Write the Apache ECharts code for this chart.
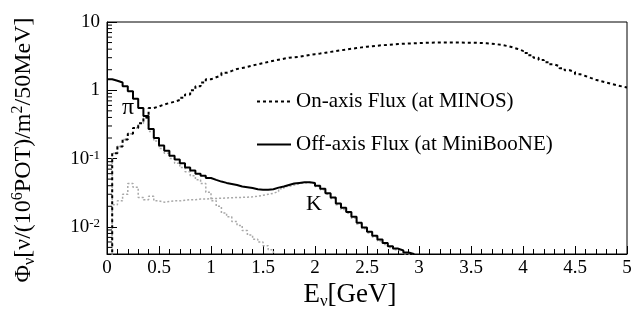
<!DOCTYPE html>
<html>
<head>
<meta charset="utf-8">
<script src="https://cdn.jsdelivr.net/npm/echarts@6/dist/echarts.min.js"></script>
<style>
html, body {margin: 0; padding: 0; background: #fff;}
#chart {width: 639px; height: 314px;}
</style>
</head>
<body>
<div id="chart"></div>
<script>
// 50 MeV bins starting at 0 GeV
var binWidth = 0.05;

// on-axis flux (MINOS), 100 bins 0-5 GeV
var onAxisFlux = [
    0.001, 0.12, 0.15, 0.19, 0.23, 0.28, 0.33, 0.40, 0.55, 0.58,
    0.62, 0.65, 0.68, 0.72, 0.78, 0.87, 1.0, 1.15, 1.3, 1.45,
    1.55, 1.65, 1.8, 1.92, 2.05, 2.12, 2.2, 2.3, 2.4, 2.5,
    2.6, 2.7, 2.8, 2.9, 3.0, 3.05, 3.1, 3.2, 3.3, 3.38,
    3.45, 3.55, 3.65, 3.75, 3.85, 3.95, 4.05, 4.15, 4.25, 4.35,
    4.42, 4.5, 4.57, 4.63, 4.7, 4.75, 4.8, 4.85, 4.88, 4.92,
    4.95, 4.97, 4.99, 5.0, 5.0, 5.0, 5.0, 5.0, 4.98, 4.97,
    4.95, 4.92, 4.88, 4.82, 4.72, 4.6, 4.45, 4.25, 4.02, 3.78,
    3.52, 3.25, 3.0, 2.78, 2.58, 2.4, 2.25, 2.1, 1.96, 1.85,
    1.72, 1.62, 1.52, 1.43, 1.36, 1.3, 1.24, 1.19, 1.14, 1.1
];

// off-axis flux (MiniBooNE), bins 0-3 GeV
var offAxisFlux = [
    1.45, 1.38, 1.3, 1.15, 0.97, 0.75, 0.55, 0.42, 0.27, 0.2,
    0.155, 0.13, 0.11, 0.097, 0.085, 0.074, 0.067, 0.06, 0.056, 0.052,
    0.0487, 0.046, 0.044, 0.0425, 0.041, 0.039, 0.038, 0.037, 0.0355, 0.035,
    0.035, 0.0355, 0.0375, 0.039, 0.041, 0.043, 0.044, 0.045, 0.045, 0.044,
    0.04, 0.036, 0.031, 0.027, 0.022, 0.019, 0.0165, 0.014, 0.0115, 0.0098,
    0.0085, 0.0074, 0.0065, 0.0058, 0.0052, 0.0048, 0.0045, 0.0042, 0.0040, 0.0036
];

// pion component of off-axis flux
var pionFlux = [
    0.001, 0.12, 0.15, 0.19, 0.23, 0.28, 0.33, 0.39, 0.25, 0.18,
    0.14, 0.12, 0.1, 0.085, 0.074, 0.064, 0.056, 0.049, 0.043, 0.032,
    0.024, 0.02, 0.016, 0.014, 0.012, 0.0105, 0.0088, 0.0076, 0.0066, 0.006,
    0.0053, 0.0046, 0.0035
];

// kaon component of off-axis flux
var kaonFlux = [
    0.001, 0.021, 0.024, 0.03, 0.043, 0.038, 0.027, 0.025, 0.028, 0.024,
    0.023, 0.0235, 0.024, 0.024, 0.0245, 0.025, 0.025, 0.0255, 0.0255, 0.026,
    0.026, 0.0262, 0.0265, 0.0267, 0.027, 0.027, 0.0272, 0.0275, 0.028, 0.029,
    0.03, 0.031, 0.033, 0.036, 0.039, 0.041, 0.043, 0.044, 0.0445, 0.043,
    0.039, 0.035, 0.03, 0.026, 0.021, 0.018, 0.0158, 0.0134, 0.011, 0.0094,
    0.0081, 0.0071, 0.0062, 0.0055, 0.005, 0.0046, 0.0043, 0.004, 0.0038, 0.0035
];

var xTicks = [0, 0.5, 1, 1.5, 2, 2.5, 3, 3.5, 4, 4.5, 5];
var yMinorTicks = [
    0.005, 0.006, 0.007, 0.008, 0.009,
    0.02, 0.03, 0.04, 0.05, 0.06, 0.07, 0.08, 0.09,
    0.2, 0.3, 0.4, 0.5, 0.6, 0.7, 0.8, 0.9,
    2, 3, 4, 5, 6, 7, 8, 9
];

var serif = 'Liberation Serif';

// histogram -> step points at bin left edges, plus closing edge
function toSteps(vals) {
    var pts = [];
    for (var i = 0; i < vals.length; i++) {
        pts.push([+(i * binWidth).toFixed(2), vals[i]]);
    }
    pts.push([+(vals.length * binWidth).toFixed(2), vals[vals.length - 1]]);
    return pts;
}

function histSeries(name, vals, color, width, type, z) {
    return {
        name: name,
        type: 'line',
        step: 'end',
        symbol: 'none',
        clip: true,
        silent: true,
        z: z,
        lineStyle: {color: color, width: width, type: type},
        itemStyle: {color: color},
        data: toSteps(vals)
    };
}

var myChart = echarts.init(document.getElementById('chart'));
var option = {
    animation: false,
    backgroundColor: '#fff',
    grid: {
        left: 107, right: 12, top: 22, bottom: 60,
        show: true, borderColor: '#000', borderWidth: 1
    },
    legend: {
        left: 251, top: 86,
        orient: 'vertical',
        itemWidth: 34, itemHeight: 14, itemGap: 22,
        itemStyle: {opacity: 0},
        data: ['On-axis Flux (at MINOS)', 'Off-axis Flux (at MiniBooNE)'],
        textStyle: {fontFamily: serif, fontSize: 21, color: '#000'}
    },
    xAxis: {
        type: 'value',
        min: 0, max: 5, interval: 0.5,
        axisLine: {lineStyle: {color: '#000', width: 1}},
        axisTick: {inside: true, length: 8, lineStyle: {color: '#000'}},
        minorTick: {show: true, splitNumber: 5, length: 5, lineStyle: {color: '#000'}},
        splitLine: {show: false},
        axisLabel: {
            color: '#000', fontFamily: serif, fontSize: 19, margin: 5,
            formatter: function (v) {
                return xTicks.indexOf(v) >= 0 ? String(v) : '';
            }
        }
    },
    yAxis: {
        type: 'log',
        logBase: 10,
        min: 0.004, max: 10,
        axisLine: {lineStyle: {color: '#000', width: 1}},
        axisTick: {inside: true, length: 10, lineStyle: {color: '#000'}},
        splitLine: {show: false},
        axisLabel: {
            color: '#000', fontFamily: serif, fontSize: 19, margin: 7,
            showMinLabel: false,
            formatter: function (v) {
                var e = Math.round(Math.log10(v));
                if (Math.abs(Math.log10(v) - e) > 1e-6) return '';
                if (e === 1) return '10';
                if (e === 0) return '1';
                return '10{sup|' + e + '}';
            },
            rich: {
                sup: {fontFamily: serif, fontSize: 13, verticalAlign: 'top', lineHeight: 12, padding: [0, 0, 8, 0]}
            }
        }
    },
    series: [
        histSeries('pi', pionFlux, '#a8a8a8', 1.5, [2, 2], 2),
        histSeries('K', kaonFlux, '#a8a8a8', 1.5, [2, 2], 2),
        histSeries('Off-axis Flux (at MiniBooNE)', offAxisFlux, '#000', 2, 'solid', 3),
        histSeries('On-axis Flux (at MINOS)', onAxisFlux, '#000', 2, [3, 3], 3),
        {
            // log-spaced minor ticks on the y axis
            type: 'custom',
            silent: true,
            clip: true,
            z: 4,
            data: yMinorTicks.map(function (v) { return [0, v]; }),
            renderItem: function (params, api) {
                var p = api.coord([api.value(0), api.value(1)]);
                return {
                    type: 'line',
                    shape: {x1: p[0], y1: p[1], x2: p[0] + 5, y2: p[1]},
                    style: {stroke: '#000', lineWidth: 1}
                };
            }
        }
    ],
    graphic: [
        {
            type: 'text', x: 24, y: 150, rotation: Math.PI / 2,
            style: {
                text: '{b|Φ}{sub|ν}{b|[ν/(10}{sup|6}{b|POT)/m}{sup|2}{b|/50MeV]}',
                align: 'center', verticalAlign: 'middle', fill: '#000',
                rich: {
                    b: {fontFamily: serif, fontSize: 24, lineHeight: 28, verticalAlign: 'middle'},
                    sub: {fontFamily: serif, fontSize: 16, lineHeight: 16, verticalAlign: 'bottom'},
                    sup: {fontFamily: serif, fontSize: 16, lineHeight: 16, verticalAlign: 'top'}
                }
            }
        },
        {
            type: 'text', x: 350, y: 295,
            style: {
                text: '{b|E}{sub|ν}{b|[GeV]}',
                align: 'center', verticalAlign: 'middle', fill: '#000',
                rich: {
                    b: {fontFamily: serif, fontSize: 27, lineHeight: 30, verticalAlign: 'middle'},
                    sub: {fontFamily: serif, fontSize: 17, lineHeight: 17, verticalAlign: 'bottom'}
                }
            }
        },
        {
            type: 'text', x: 128, y: 108,
            style: {text: 'π', font: '24px "Liberation Serif"', fill: '#000', align: 'center', verticalAlign: 'middle'}
        },
        {
            type: 'text', x: 314, y: 204,
            style: {text: 'K', font: '22px "Liberation Serif"', fill: '#000', align: 'center', verticalAlign: 'middle'}
        }
    ]
};
myChart.setOption(option);
window.addEventListener('resize', function () {
    myChart.resize();
});
</script>
</body>
</html>
